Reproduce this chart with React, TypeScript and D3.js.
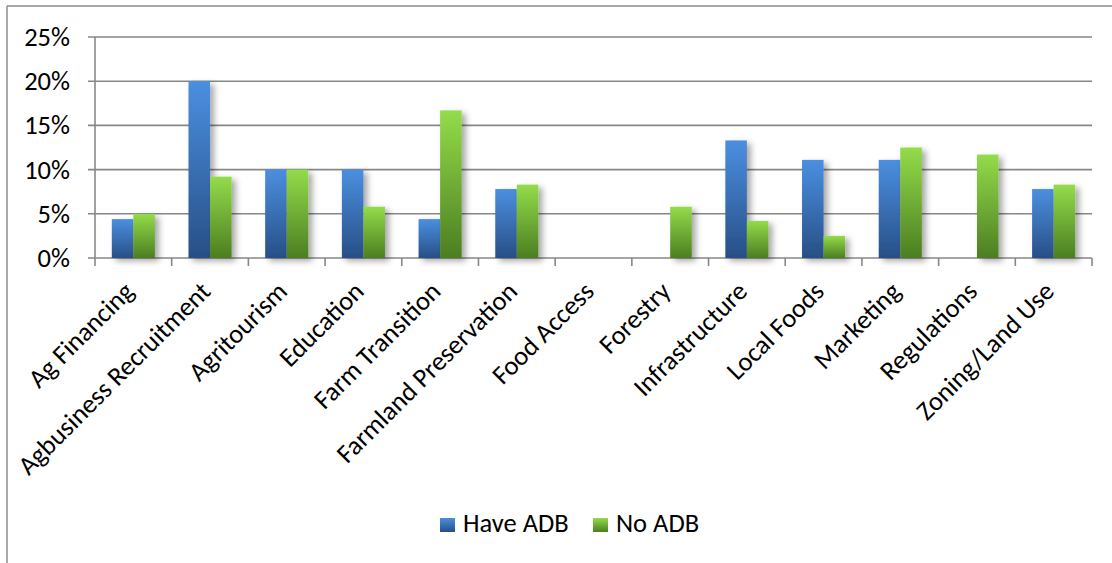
import React from "react";
import * as d3 from "d3";

const categories = [
  "Ag Financing",
  "Agbusiness Recruitment",
  "Agritourism",
  "Education",
  "Farm Transition",
  "Farmland Preservation",
  "Food Access",
  "Forestry",
  "Infrastructure",
  "Local Foods",
  "Marketing",
  "Regulations",
  "Zoning/Land Use",
];

const seriesNames = ["Have ADB", "No ADB"];

const haveADB = [4.4, 20.0, 10.0, 10.0, 4.4, 7.8, 0, 0, 13.3, 11.1, 11.1, 0, 7.8];
const noADB = [5.0, 9.2, 10.0, 5.8, 16.7, 8.3, 0, 5.8, 4.2, 2.5, 12.5, 11.7, 8.3];

const yTicks = [0, 5, 10, 15, 20, 25];

const W = 1112;
const H = 563;
const left = 95;
const right = 1092;
const top = 37;
const bottom = 258;
const FONT = "Carlito, Calibri, Lato, sans-serif";
const FS = 26.5;
const AXIS = "#878787";

export default function App() {
  const x = d3.scaleBand<string>().domain(categories).range([left, right]).paddingInner(0).paddingOuter(0);
  const xs = d3.scaleBand<string>().domain(seriesNames).range([0, x.bandwidth()]).paddingInner(0).paddingOuter(0.78);
  const y = d3.scaleLinear().domain([0, 25]).range([bottom, top]);

  const values: Record<string, number[]> = { "Have ADB": haveADB, "No ADB": noADB };
  const grad: Record<string, string> = { "Have ADB": "url(#gBlue)", "No ADB": "url(#gGreen)" };

  const boundaries = categories.map((c) => x(c) as number).concat([right]);

  return (
    <svg width={W} height={H} style={{ position: "absolute", left: 0, top: 0, background: "#fff" }}>
      <defs>
        <linearGradient id="gBlue" x1="0" y1="0" x2="0" y2="1">
          <stop offset="0" stopColor="#4b8fe0" />
          <stop offset="1" stopColor="#274f86" />
        </linearGradient>
        <linearGradient id="gGreen" x1="0" y1="0" x2="0" y2="1">
          <stop offset="0" stopColor="#93dc4a" />
          <stop offset="1" stopColor="#4c7e21" />
        </linearGradient>
        <filter id="shadow" x="-30%" y="-10%" width="180%" height="130%">
          <feDropShadow dx="4" dy="3" stdDeviation="3" floodColor="#000" floodOpacity="0.35" />
        </filter>
      </defs>

      {/* chart frame */}
      <line x1={7} x2={W} y1={6} y2={6} stroke="#8d8d8d" strokeWidth={1.5} />
      <line x1={7} x2={7} y1={6} y2={H} stroke="#8d8d8d" strokeWidth={1.5} />

      {/* gridlines and y ticks */}
      {yTicks.map((t) => (
        <g key={t}>
          <line x1={left - 7} x2={right} y1={y(t)} y2={y(t)} stroke={AXIS} strokeWidth={1.6} />
          <text
            x={70}
            y={y(t)}
            textAnchor="end"
            dominantBaseline="central"
            fontFamily={FONT}
            fontSize={FS}
            fill="#000"
          >
            {t}%
          </text>
        </g>
      ))}

      {/* y axis */}
      <line x1={left} x2={left} y1={top} y2={bottom} stroke={AXIS} strokeWidth={1.6} />

      {/* x tick marks */}
      {boundaries.map((b, i) => (
        <line key={i} x1={b} x2={b} y1={bottom} y2={bottom + 8} stroke={AXIS} strokeWidth={1.6} />
      ))}

      {/* bars */}
      {seriesNames.map((s) => (
        <g key={s} filter="url(#shadow)">
          {categories.map((c, i) => {
            const v = values[s][i];
            if (!v) return null;
            return (
              <rect
                key={c}
                x={(x(c) as number) + (xs(s) as number)}
                y={y(v)}
                width={xs.bandwidth()}
                height={y(0) - y(v)}
                fill={grad[s]}
              />
            );
          })}
        </g>
      ))}

      {/* category labels */}
      {categories.map((c) => {
        const cx = (x(c) as number) + x.bandwidth() / 2 + 2;
        const cy = bottom + 35;
        return (
          <text
            key={c}
            x={cx}
            y={cy}
            transform={`rotate(-45 ${cx} ${cy})`}
            textAnchor="end"
            fontFamily={FONT}
            fontSize={FS}
            fill="#000"
          >
            {c}
          </text>
        );
      })}

      {/* legend */}
      {seriesNames.map((s, i) => {
        const lx = i === 0 ? 440 : 593;
        return (
          <g key={s}>
            <rect x={lx} y={518} width={15} height={14} fill={grad[s]} />
            <text x={lx + 23} y={532} fontFamily={FONT} fontSize={FS} fill="#000">
              {s}
            </text>
          </g>
        );
      })}
    </svg>
  );
}
